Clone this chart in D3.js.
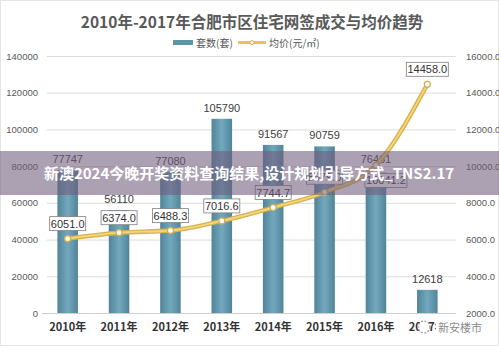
<!DOCTYPE html>
<html>
<head>
<meta charset="utf-8">
<script src="https://cdn.jsdelivr.net/npm/d3@7"></script>
<style>
  html, body { margin: 0; padding: 0; background: #fff; }
  svg { display: block; font-family: "Noto Sans CJK SC", "Noto Sans", sans-serif; }
</style>
</head>
<body>
<svg id="chart" width="499" height="346"></svg>
<script>
// Hefei urban residential contract sales (units) and average price, 2010-2017
const years = ["2010年", "2011年", "2012年", "2013年", "2014年", "2015年", "2016年", "2017年"];
const units = [77747, 56110, 77080, 105790, 91567, 90759, 76461, 12618];
const prices = [6051.0, 6374.0, 6488.3, 7016.6, 7744.7, 8579.0, 10041.2, 14458.0];
const leftTicks = [0, 20000, 40000, 60000, 80000, 100000, 120000, 140000];
const rightTicks = [2000, 4000, 6000, 8000, 10000, 12000, 14000, 16000];

const svg = d3.select("#chart");
const W = 499, H = 346;

const x = d3.scaleBand().domain(years).range([42, 453]).paddingInner(0.6).paddingOuter(0.3);
const yL = d3.scaleLinear().domain([0, 140000]).range([313, 56]);
const yR = d3.scaleLinear().domain([2000, 16000]).range([313, 56]);

const defs = svg.append("defs");
const bg = defs.append("linearGradient").attr("id", "barGrad").attr("x1", 0).attr("x2", 1).attr("y1", 0).attr("y2", 0);
bg.append("stop").attr("offset", "0%").attr("stop-color", "#528498");
bg.append("stop").attr("offset", "50%").attr("stop-color", "#72a8bd");
bg.append("stop").attr("offset", "100%").attr("stop-color", "#528498");

// outer frame
svg.append("rect").attr("x", 0.5).attr("y", 0.5).attr("width", W - 1).attr("height", H - 1)
  .attr("fill", "#fff").attr("stroke", "#e4e4e4");

// title
svg.append("text").attr("x", 252).attr("y", 28).attr("text-anchor", "middle")
  .attr("font-size", 15.5).attr("font-weight", "bold").attr("fill", "#595959")
  .text("2010年-2017年合肥市区住宅网签成交与均价趋势");

// legend
const lg = svg.append("g");
lg.append("rect").attr("x", 173).attr("y", 40).attr("width", 20).attr("height", 5).attr("fill", "#5f93a8");
lg.append("text").attr("x", 196).attr("y", 47).attr("font-size", 10).attr("fill", "#595959").text("套数(套)");
lg.append("line").attr("x1", 238).attr("x2", 266).attr("y1", 42.5).attr("y2", 42.5)
  .attr("stroke", "#e8c35a").attr("stroke-width", 3);
lg.append("circle").attr("cx", 252).attr("cy", 42.5).attr("r", 2).attr("fill", "#fff").attr("stroke", "#d9b24c");
lg.append("text").attr("x", 269).attr("y", 47).attr("font-size", 10).attr("fill", "#595959").text("均价(元/㎡)");

// gridlines
svg.append("g").selectAll("line").data(leftTicks.slice(1)).join("line")
  .attr("x1", 47).attr("x2", 456)
  .attr("y1", d => yL(d) + 0.5).attr("y2", d => yL(d) + 0.5)
  .attr("stroke", "#dcdcdc").attr("stroke-width", 1);
svg.append("line").attr("x1", 42).attr("x2", 456).attr("y1", 313.5).attr("y2", 313.5)
  .attr("stroke", "#cfcfcf");

// left axis
const axL = svg.append("g").attr("transform", "translate(38,0)")
  .call(d3.axisLeft(yL).tickValues(leftTicks).tickSize(0).tickPadding(0).tickFormat(d3.format("d")));
axL.select(".domain").remove();
axL.selectAll("text").attr("font-size", 9.5).attr("fill", "#595959")
  .attr("font-family", "'Liberation Sans', sans-serif");

// right axis
const axR = svg.append("g").attr("transform", "translate(466,0)")
  .call(d3.axisRight(yR).tickValues(rightTicks).tickSize(0).tickPadding(0).tickFormat(d3.format(".1f")));
axR.select(".domain").remove();
axR.selectAll("text").attr("font-size", 9.5).attr("fill", "#595959")
  .attr("font-family", "'Liberation Sans', sans-serif");

// bars
svg.append("g").selectAll("rect").data(years).join("rect")
  .attr("x", d => x(d)).attr("width", x.bandwidth())
  .attr("y", (d, i) => yL(units[i])).attr("height", (d, i) => yL(0) - yL(units[i]))
  .attr("fill", "url(#barGrad)");

// bar value labels
svg.append("g").selectAll("text").data(years).join("text")
  .attr("x", d => x(d) + x.bandwidth() / 2)
  .attr("y", (d, i) => yL(units[i]) - (i === 6 ? 10 : 7))
  .attr("text-anchor", "middle").attr("font-size", 11).attr("fill", "#404040")
  .attr("font-family", "'Liberation Sans', sans-serif")
  .text((d, i) => units[i]);

// x axis labels
svg.append("g").selectAll("text").data(years).join("text")
  .attr("x", d => x(d) + x.bandwidth() / 2).attr("y", 331)
  .attr("text-anchor", "middle").attr("font-size", 11).attr("font-weight", "bold").attr("fill", "#333")
  .text(d => d);

// price line
const cx = (d, i) => x(years[i]) + x.bandwidth() / 2;
const line = d3.line().x((d, i) => cx(d, i)).y(d => yR(d)).curve(d3.curveMonotoneX);
svg.append("path").datum(prices).attr("d", line).attr("fill", "none")
  .attr("stroke", "#d9b24c").attr("stroke-width", 4.5).attr("stroke-linecap", "round");
svg.append("path").datum(prices).attr("d", line).attr("fill", "none")
  .attr("stroke", "#f1d77f").attr("stroke-width", 1.8);
svg.append("g").selectAll("circle").data(prices).join("circle")
  .attr("cx", cx).attr("cy", d => yR(d)).attr("r", 3)
  .attr("fill", "#fff").attr("stroke", "#d4ad4a").attr("stroke-width", 1.2);

// price labels in boxes (2016 label sits to the lower right of its point)
const pl = svg.append("g").selectAll("g").data(prices).join("g")
  .attr("transform", (d, i) => i === 6
    ? `translate(${cx(d, i) + 10},${yR(d) + 15})`
    : `translate(${cx(d, i)},${yR(d) - 15})`);
pl.append("rect").attr("x", -18).attr("y", -7).attr("width", 36).attr("height", 14)
  .attr("fill", "#fff").attr("stroke", "#7f7f7f").attr("stroke-width", 0.8);
pl.append("text").attr("y", 4).attr("text-anchor", "middle").attr("font-size", 11).attr("fill", "#333")
  .attr("font-family", "'Liberation Sans', sans-serif")
  .text(d => d3.format(".1f")(d));
pl.filter(d => d >= 10000).select("rect").attr("x", -21).attr("width", 42);

// translucent banner across the middle
svg.append("rect").attr("x", 0).attr("y", 151).attr("width", W).attr("height", 44)
  .attr("fill", "rgb(112,92,124)").attr("opacity", 0.58);
svg.append("text").attr("x", 249).attr("y", 179).attr("text-anchor", "middle")
  .attr("font-size", 15).attr("font-weight", "bold").attr("fill", "#fff")
  .text("新澳2024今晚开奖资料查询结果,设计规划引导方式_TNS2.17");

// corner watermark over the last year label
const wm = svg.append("g");
wm.append("circle").attr("cx", 424).attr("cy", 327).attr("r", 6).attr("fill", "#fff")
  .attr("stroke", "#9a9a9a").attr("stroke-width", 1.2).attr("stroke-dasharray", "2,1.5");
wm.append("rect").attr("x", 436).attr("y", 319).attr("width", 48).attr("height", 15).attr("fill", "#fff");
wm.append("text").attr("x", 438).attr("y", 332).attr("font-size", 11).attr("fill", "#8a8a8a").text("新安楼市");
</script>
</body>
</html>
